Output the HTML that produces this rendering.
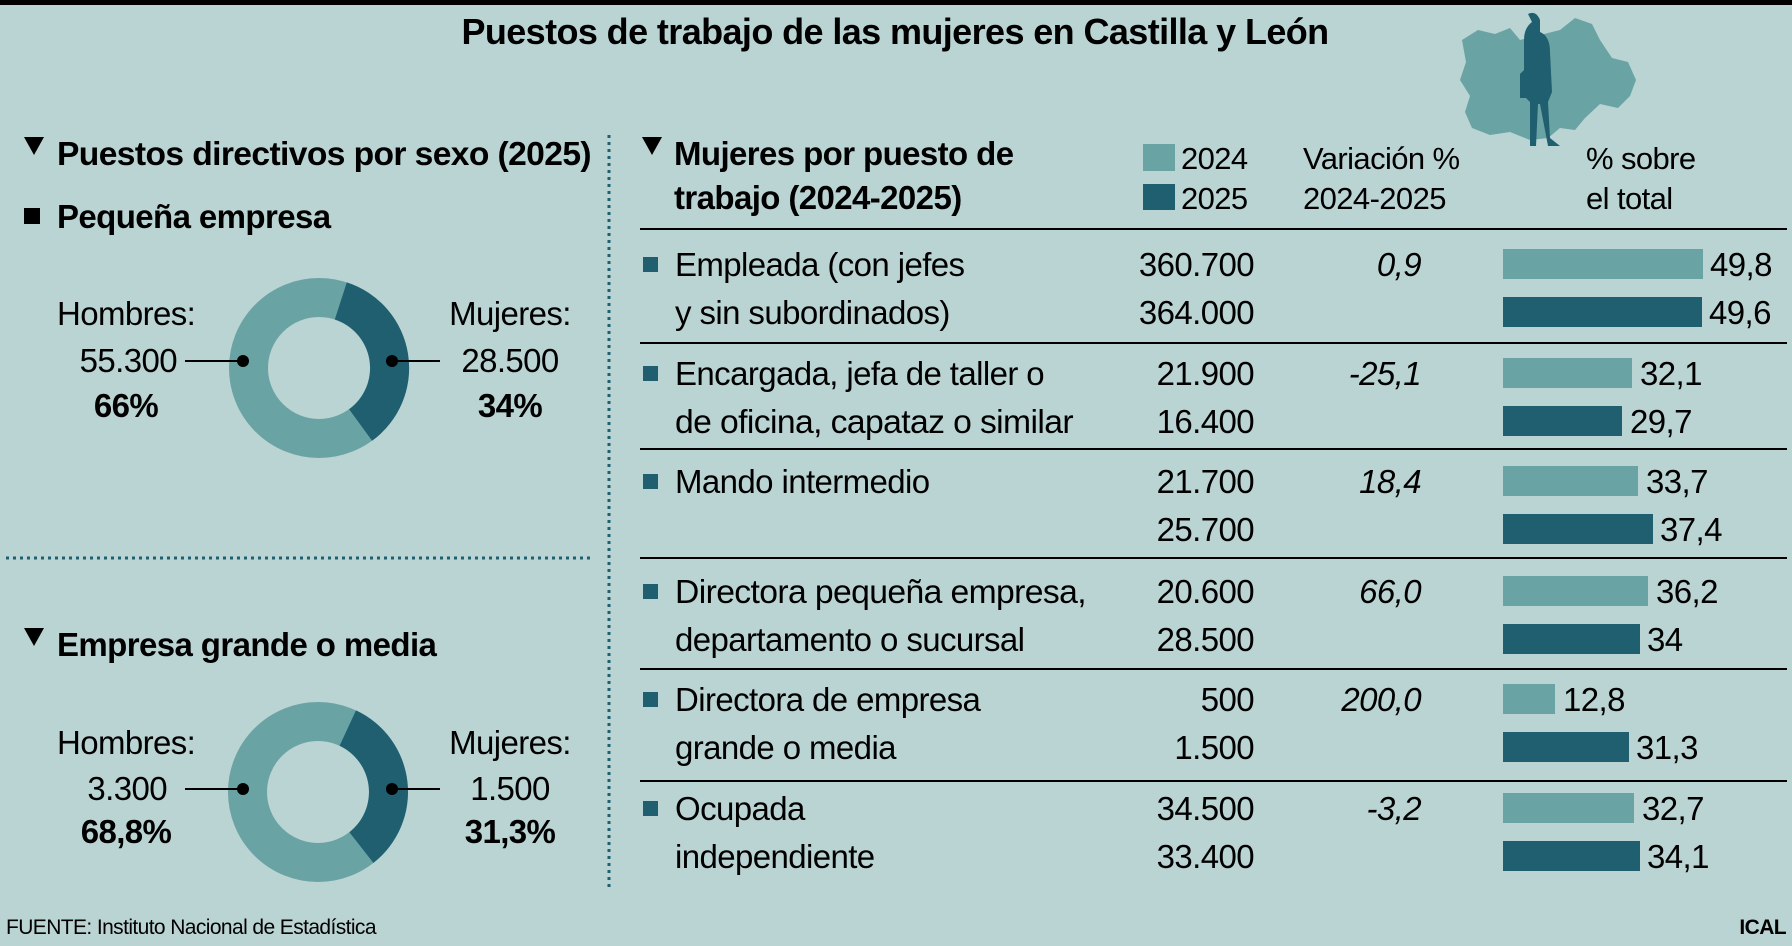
<!DOCTYPE html>
<html><head><meta charset="utf-8"><style>
body{margin:0;background:#bad3d3}
svg{display:block;font-family:"Liberation Sans Narrow","Liberation Sans",sans-serif;letter-spacing:-0.6px}
.b{font-weight:bold}
</style></head><body>
<svg width="1792" height="946" viewBox="0 0 1792 946" xmlns="http://www.w3.org/2000/svg">
<rect width="1792" height="946" fill="#bad3d3"/>
<rect width="1792" height="5" fill="#000"/>
<text x="895" y="44" text-anchor="middle" font-size="36" class="b">Puestos de trabajo de las mujeres en Castilla y León</text>
<!-- map + woman -->
<path d="M1462 40 L1478 30 L1495 34 L1510 28 L1520 40 L1560 30 L1575 18 L1592 24 L1600 40 L1612 58 L1628 62 L1636 80 L1630 96 L1618 108 L1600 104 L1585 118 L1575 130 L1560 128 L1548 138 L1530 140 L1510 132 L1490 135 L1472 128 L1465 112 L1470 96 L1460 80 L1466 62 Z" fill="#6aa3a3"/>
<path d="M1528 14 q8 -4 12 6 l0 12 q10 4 10 20 l2 40 l-4 10 l2 36 l10 8 l-12 0 l-8 -42 l-2 0 l-2 42 l-6 0 l0 -44 l-4 -4 l-6 0 l0 -24 l4 -4 l0 -30 q0 -12 8 -18 z" fill="#1f5f70"/>
<!-- dotted lines -->
<line x1="609" y1="135" x2="609" y2="889" stroke="#1f5f70" stroke-width="3" stroke-dasharray="3,4"/>
<line x1="6" y1="558" x2="592" y2="558" stroke="#1f5f70" stroke-width="3" stroke-dasharray="3,4"/>
<!-- left headers -->
<polygon points="24,137 44,137 34,155" fill="#000"/>
<text x="57" y="165" font-size="33" class="b" textLength="534" lengthAdjust="spacingAndGlyphs">Puestos directivos por sexo (2025)</text>
<rect x="24" y="208" width="16" height="16" fill="#000"/>
<text x="57" y="228" font-size="33" class="b">Pequeña empresa</text>
<polygon points="24,628 44,628 34,646" fill="#000"/>
<text x="57" y="656" font-size="33" class="b">Empresa grande o media</text>
<!-- donut 1 -->
<g transform="translate(319,368)">
<circle r="70.5" fill="none" stroke="#6aa3a3" stroke-width="39"/>
<path d="M27.8 -85.6 A90 90 0 0 1 53.1 72.8 L30.1 41.3 A51 51 0 0 0 15.8 -48.5 Z" fill="#1f5f70"/>
</g>
<text x="57" y="325" font-size="33">Hombres:</text>
<text x="177" y="372" font-size="33" text-anchor="end">55.300</text>
<text x="126" y="417" font-size="33" class="b" text-anchor="middle">66%</text>
<line x1="185" y1="361" x2="243" y2="361" stroke="#000" stroke-width="2"/><circle cx="243" cy="361" r="6"/>
<text x="510" y="325" font-size="33" text-anchor="middle">Mujeres:</text>
<text x="510" y="372" font-size="33" text-anchor="middle">28.500</text>
<text x="510" y="417" font-size="33" class="b" text-anchor="middle">34%</text>
<line x1="392" y1="361" x2="440" y2="361" stroke="#000" stroke-width="2"/><circle cx="392" cy="361" r="6"/>
<!-- donut 2 -->
<g transform="translate(318,792)">
<circle r="70.5" fill="none" stroke="#6aa3a3" stroke-width="39"/>
<path d="M38 -81.6 A90 90 0 0 1 55.4 70.9 L31.4 40.2 A51 51 0 0 0 21.6 -46.2 Z" fill="#1f5f70"/>
</g>
<text x="57" y="754" font-size="33">Hombres:</text>
<text x="167" y="800" font-size="33" text-anchor="end">3.300</text>
<text x="126" y="843" font-size="33" class="b" text-anchor="middle">68,8%</text>
<line x1="185" y1="789" x2="243" y2="789" stroke="#000" stroke-width="2"/><circle cx="243" cy="789" r="6"/>
<text x="510" y="754" font-size="33" text-anchor="middle">Mujeres:</text>
<text x="510" y="800" font-size="33" text-anchor="middle">1.500</text>
<text x="510" y="843" font-size="33" class="b" text-anchor="middle">31,3%</text>
<line x1="392" y1="789" x2="440" y2="789" stroke="#000" stroke-width="2"/><circle cx="392" cy="789" r="6"/>
<!-- right header -->
<polygon points="642,137 662,137 652,155" fill="#000"/>
<text x="674" y="165" font-size="33" class="b">Mujeres por puesto de</text>
<text x="674" y="209" font-size="33" class="b">trabajo (2024-2025)</text>
<rect x="1143" y="144" width="32" height="27" fill="#6aa3a3"/>
<rect x="1143" y="184" width="32" height="26" fill="#1f5f70"/>
<text x="1181" y="169" font-size="31">2024</text>
<text x="1181" y="209" font-size="31">2025</text>
<text x="1303" y="169" font-size="31">Variación %</text>
<text x="1303" y="209" font-size="31">2024-2025</text>
<text x="1586" y="169" font-size="31">% sobre</text>
<text x="1586" y="209" font-size="31">el total</text>
<g stroke="#000" stroke-width="2">
<line x1="640" y1="229" x2="1787" y2="229"/>
<line x1="640" y1="343" x2="1787" y2="343"/>
<line x1="640" y1="449" x2="1787" y2="449"/>
<line x1="640" y1="558" x2="1787" y2="558"/>
<line x1="640" y1="669" x2="1787" y2="669"/>
<line x1="640" y1="781" x2="1787" y2="781"/>
</g>
<g font-size="33">
<rect x="643" y="257" width="15" height="15" fill="#1f5f70"/>
<text x="675" y="276">Empleada (con jefes</text><text x="675" y="324">y sin subordinados)</text>
<text x="1254" y="276" text-anchor="end">360.700</text><text x="1254" y="324" text-anchor="end">364.000</text>
<text x="1421" y="276" text-anchor="end" font-style="italic">0,9</text>
<rect x="1503" y="249" width="200" height="30" fill="#6aa3a3"/><text x="1710" y="276">49,8</text>
<rect x="1503" y="297" width="199" height="30" fill="#1f5f70"/><text x="1709" y="324">49,6</text>

<rect x="643" y="366" width="15" height="15" fill="#1f5f70"/>
<text x="675" y="385">Encargada, jefa de taller o</text><text x="675" y="433" textLength="398" lengthAdjust="spacingAndGlyphs">de oficina, capataz o similar</text>
<text x="1254" y="385" text-anchor="end">21.900</text><text x="1254" y="433" text-anchor="end">16.400</text>
<text x="1421" y="385" text-anchor="end" font-style="italic">-25,1</text>
<rect x="1503" y="358" width="129" height="30" fill="#6aa3a3"/><text x="1640" y="385">32,1</text>
<rect x="1503" y="406" width="119" height="30" fill="#1f5f70"/><text x="1630" y="433">29,7</text>

<rect x="643" y="474" width="15" height="15" fill="#1f5f70"/>
<text x="675" y="493">Mando intermedio</text>
<text x="1254" y="493" text-anchor="end">21.700</text><text x="1254" y="541" text-anchor="end">25.700</text>
<text x="1421" y="493" text-anchor="end" font-style="italic">18,4</text>
<rect x="1503" y="466" width="135" height="30" fill="#6aa3a3"/><text x="1646" y="493">33,7</text>
<rect x="1503" y="514" width="150" height="30" fill="#1f5f70"/><text x="1660" y="541">37,4</text>

<rect x="643" y="584" width="15" height="15" fill="#1f5f70"/>
<text x="675" y="603" textLength="411" lengthAdjust="spacingAndGlyphs">Directora pequeña empresa,</text><text x="675" y="651">departamento o sucursal</text>
<text x="1254" y="603" text-anchor="end">20.600</text><text x="1254" y="651" text-anchor="end">28.500</text>
<text x="1421" y="603" text-anchor="end" font-style="italic">66,0</text>
<rect x="1503" y="576" width="145" height="30" fill="#6aa3a3"/><text x="1656" y="603">36,2</text>
<rect x="1503" y="624" width="137" height="30" fill="#1f5f70"/><text x="1647" y="651">34</text>

<rect x="643" y="692" width="15" height="15" fill="#1f5f70"/>
<text x="675" y="711">Directora de empresa</text><text x="675" y="759">grande o media</text>
<text x="1254" y="711" text-anchor="end">500</text><text x="1254" y="759" text-anchor="end">1.500</text>
<text x="1421" y="711" text-anchor="end" font-style="italic">200,0</text>
<rect x="1503" y="684" width="52" height="30" fill="#6aa3a3"/><text x="1563" y="711">12,8</text>
<rect x="1503" y="732" width="126" height="30" fill="#1f5f70"/><text x="1636" y="759">31,3</text>

<rect x="643" y="801" width="15" height="15" fill="#1f5f70"/>
<text x="675" y="820">Ocupada</text><text x="675" y="868">independiente</text>
<text x="1254" y="820" text-anchor="end">34.500</text><text x="1254" y="868" text-anchor="end">33.400</text>
<text x="1421" y="820" text-anchor="end" font-style="italic">-3,2</text>
<rect x="1503" y="793" width="131" height="30" fill="#6aa3a3"/><text x="1642" y="820">32,7</text>
<rect x="1503" y="841" width="137" height="30" fill="#1f5f70"/><text x="1647" y="868">34,1</text>
</g>
<text x="6" y="934" font-size="21">FUENTE: Instituto Nacional de Estadística</text>
<text x="1786" y="934" font-size="21" class="b" text-anchor="end">ICAL</text>
</svg>
</body></html>
